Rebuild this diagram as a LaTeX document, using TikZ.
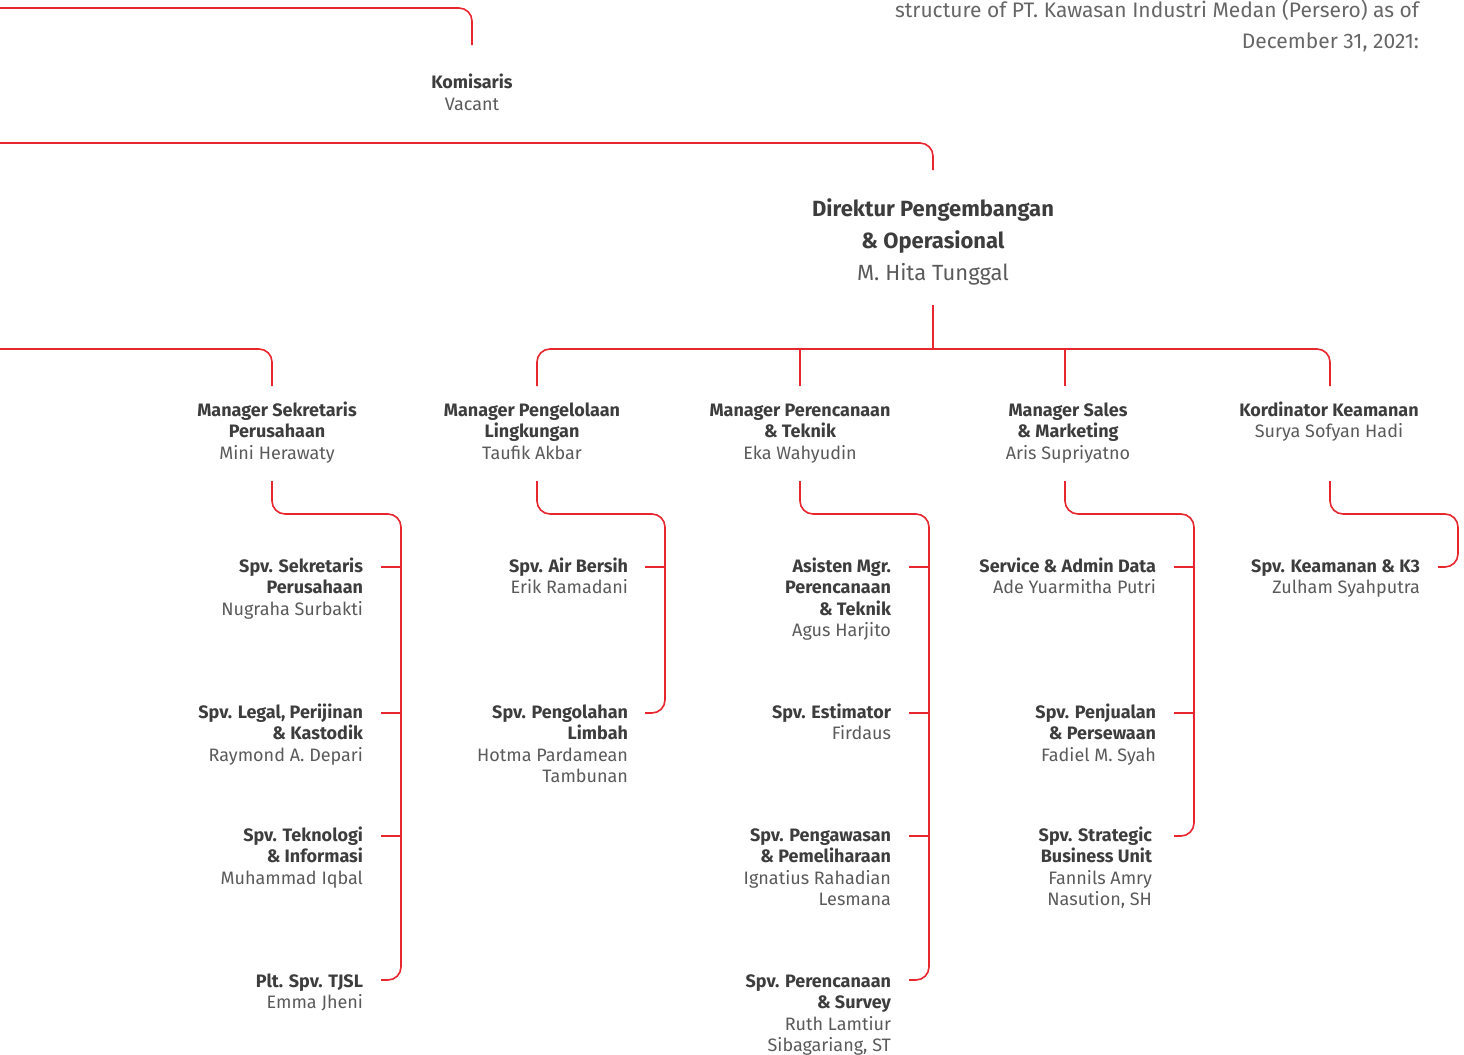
\documentclass[tikz,border=0pt]{standalone}
\usepackage{fontspec}
\setmainfont{Fira Sans}
\usepackage{xcolor}
\definecolor{kimred}{HTML}{E8262E}
\definecolor{ttlgray}{HTML}{3D3D3D}
\definecolor{namegray}{HTML}{5A5A5A}
\usepackage{tikz}
\usetikzlibrary{positioning}
\newcommand\ttl[1]{\textcolor{ttlgray}{\bfseries #1}}
\tikzset{
  link/.style  ={draw=kimred, line width=0.8pt, rounded corners=6.5pt},
  stub/.style  ={draw=kimred, line width=0.8pt},
  person/.style={inner sep=0pt, outer sep=0pt, text=namegray,
                 font=\fontsize{9}{10.75}\selectfont},
  boss/.style  ={person, anchor=base, align=center},
  staff/.style ={person, anchor=base east, align=right},
  chief/.style ={person, anchor=base, align=center, font=\fontsize{11}{16}\selectfont},
  note/.style  ={person, anchor=base east, align=right, text=black!60,
                 font=\fontsize{10.5}{15.5}\selectfont},
}

\begin{document}
\begin{tikzpicture}[x=0.5pt, y=-0.5pt]
  \useasboundingbox (0,0) rectangle (1464,1055);

  % caption at the top right (placed by its last line)
  \node[note] (note) at (1419,48) {structure of PT. Kawasan Industri Medan (Persero) as of\\December 31, 2021:};

  % board
  \node[boss]  (kom) at (472,110) {\ttl{Komisaris}\\Vacant};
  \node[chief] (dir) at (933,280) {\ttl{Direktur Pengembangan}\\\ttl{\& Operasional}\\M. Hita Tunggal};

  % managers
  \node[boss] (msek) at (277,459)    {\ttl{Manager Sekretaris}\\\ttl{Perusahaan}\\Mini Herawaty};
  \node[boss] (mlin) at (532,459)    {\ttl{Manager Pengelolaan}\\\ttl{Lingkungan}\\Taufik Akbar};
  \node[boss] (mren) at (800,459)    {\ttl{Manager Perencanaan}\\\ttl{\& Teknik}\\Eka Wahyudin};
  \node[boss] (msal) at (1068,459)   {\ttl{Manager Sales}\\\ttl{\& Marketing}\\Aris Supriyatno};
  \node[boss] (mkea) at (1329,437.5) {\ttl{Kordinator Keamanan}\\Surya Sofyan Hadi};

  % staff, sekretaris perusahaan
  \node[staff] (ssek) at (363,615)    {\ttl{Spv. Sekretaris}\\\ttl{Perusahaan}\\Nugraha Surbakti};
  \node[staff] (sleg) at (363,761)    {\ttl{Spv. Legal, Perijinan}\\\ttl{\& Kastodik}\\Raymond A. Depari};
  \node[staff] (stek) at (363,884)    {\ttl{Spv. Teknologi}\\\ttl{\& Informasi}\\Muhammad Iqbal};
  \node[staff] (stjs) at (363,1008.5) {\ttl{Plt. Spv. TJSL}\\Emma Jheni};
  % staff, lingkungan
  \node[staff] (sair) at (628,593.5) {\ttl{Spv. Air Bersih}\\Erik Ramadani};
  \node[staff] (slim) at (628,782.5) {\ttl{Spv. Pengolahan}\\\ttl{Limbah}\\Hotma Pardamean\\Tambunan};
  % staff, perencanaan
  \node[staff] (sasi) at (891,636.5)  {\ttl{Asisten Mgr.}\\\ttl{Perencanaan}\\\ttl{\& Teknik}\\Agus Harjito};
  \node[staff] (sest) at (891,739.5)  {\ttl{Spv. Estimator}\\Firdaus};
  \node[staff] (speg) at (891,905.5)  {\ttl{Spv. Pengawasan}\\\ttl{\& Pemeliharaan}\\Ignatius Rahadian\\Lesmana};
  \node[staff] (ssur) at (891,1051.5) {\ttl{Spv. Perencanaan}\\\ttl{\& Survey}\\Ruth Lamtiur\\Sibagariang, ST};
  % staff, sales
  \node[staff] (sser) at (1156,593.5) {\ttl{Service \& Admin Data}\\Ade Yuarmitha Putri};
  \node[staff] (sjua) at (1156,761)   {\ttl{Spv. Penjualan}\\\ttl{\& Persewaan}\\Fadiel M. Syah};
  \node[staff] (sstr) at (1152,905.5) {\ttl{Spv. Strategic}\\\ttl{Business Unit}\\Fannils Amry\\Nasution, SH};
  % staff, keamanan
  \node[staff] (sk3)  at (1420,593.5) {\ttl{Spv. Keamanan \& K3}\\Zulham Syahputra};

  % free ends and joints
  \coordinate (offtop) at (0,8);
  \coordinate (offmid) at (0,143);
  \coordinate (offlow) at (0,349);
  \coordinate (komin)  at (472,45);
  \coordinate (dirin)  at (933,170);
  \coordinate (dirout) at (933,305);
  \coordinate (bus)    at (933,349);

  % board lines
  \draw[link] (offtop) -| (komin);
  \draw[link] (offmid) -| (dirin);
  \draw[link] (dirout) -- (bus);
  \draw[link] (offlow) -| (272,386);
  \draw[link] (537,386) |- (bus) -| (1330,386);
  \draw[stub] (800,349) -- (800,386);
  \draw[stub] (1065,349) -- (1065,386);

  % manager to staff lines
  \draw[link] (272,481) |- (401,514) |- (381,980);
  \draw[link] (537,481) |- (665,514) |- (645,713);
  \draw[link] (800,481) |- (929,514) |- (909,980);
  \draw[link] (1065,481) |- (1194,514) |- (1174,836);
  \draw[link] (1330,481) |- (1458,514) |- (1438,567);

  % stubs to staff
  \foreach \y in {567,713,836} \draw[stub] (381,\y) -- (401,\y);
  \draw[stub] (645,567) -- (665,567);
  \foreach \y in {567,713,836} \draw[stub] (909,\y) -- (929,\y);
  \foreach \y in {567,713} \draw[stub] (1174,\y) -- (1194,\y);
\end{tikzpicture}
\end{document}
